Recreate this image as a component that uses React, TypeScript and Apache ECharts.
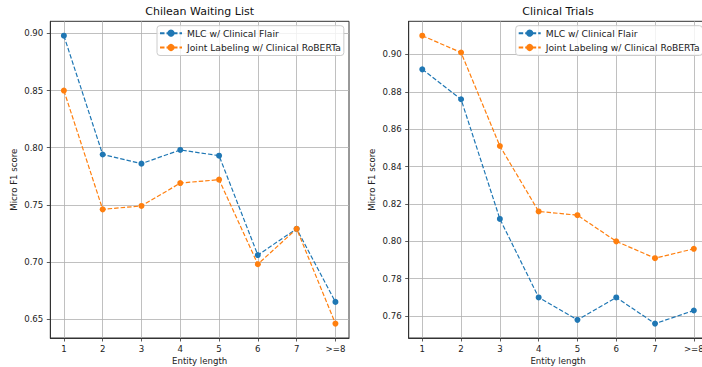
import React, { useEffect, useRef } from "react";
import * as echarts from "echarts";

const categories = ["1", "2", "3", "4", "5", "6", "7", ">=8"];
const seriesNames = ["MLC w/ Clinical Flair", "Joint Labeling w/ Clinical RoBERTa"];
const cwlMlc = [0.898, 0.794, 0.786, 0.798, 0.793, 0.706, 0.729, 0.665];
const cwlJoint = [0.85, 0.746, 0.749, 0.769, 0.772, 0.698, 0.729, 0.646];
const ctMlc = [0.892, 0.876, 0.812, 0.77, 0.758, 0.77, 0.756, 0.763];
const ctJoint = [0.91, 0.901, 0.851, 0.816, 0.814, 0.8, 0.791, 0.796];
const cwlTicks = [0.65, 0.7, 0.75, 0.8, 0.85, 0.9];
const ctTicks = [0.76, 0.78, 0.8, 0.82, 0.84, 0.86, 0.88, 0.9];
const titles = ["Chilean Waiting List", "Clinical Trials"];
const xName = "Entity length";
const yName = "Micro F1 score";

const FONT = "DejaVu Sans";
const colors = ["#1f77b4", "#ff7f0e"];
const TXT = "#222";

function range(arrs: number[][]) {
  const all = arrs.flat();
  const lo = Math.min(...all);
  const hi = Math.max(...all);
  const m = (hi - lo) * 0.05;
  return [lo - m, hi + m];
}

export default function App() {
  const ref = useRef<HTMLDivElement>(null);
  useEffect(() => {
    if (!ref.current) return;
    const chart = echarts.init(ref.current, null, { renderer: "svg" });
    const grids = [
      { left: 50.3, top: 21.3, width: 298.7, height: 316.7 },
      { left: 408.7, top: 21.3, width: 298.7, height: 316.7 },
    ];
    const yTicks = [cwlTicks, ctTicks];
    const yRanges = [range([cwlMlc, cwlJoint]), range([ctMlc, ctJoint])];
    const data = [
      [cwlMlc, cwlJoint],
      [ctMlc, ctJoint],
    ];
    const xIdx = categories.map((_, i) => i);

    const option: any = {
      animation: false,
      backgroundColor: "#fff",
      grid: grids.map((g) => ({
        ...g,
        show: true,
        borderColor: "#333",
        borderWidth: 1,
        backgroundColor: "transparent",
        containLabel: false,
        outerBoundsMode: "none",
      })),
      xAxis: grids.map((_, gi) => ({
        type: "value",
        gridIndex: gi,
        min: -0.35,
        max: 7.35,
        name: xName,
        nameLocation: "middle",
        nameGap: 18.5,
        nameMoveOverlap: false,
        nameTextStyle: { fontFamily: FONT, fontSize: 8.6, color: TXT },
        axisLine: { show: true, onZero: false, lineStyle: { color: "#333", width: 1 } },
        axisTick: {
          show: true,
          length: 3.5,
          customValues: xIdx,
          lineStyle: { color: "#333", width: 0.8 },
        },
        axisLabel: {
          customValues: xIdx,
          margin: 6.5,
          fontFamily: FONT,
          fontSize: 8.6,
          color: TXT,
          formatter: (v: number) => categories[Math.round(v)] ?? "",
        },
        splitLine: { show: true, lineStyle: { color: "#b0b0b0", width: 0.8 } },
      })),
      yAxis: grids.map((_, gi) => ({
        type: "value",
        gridIndex: gi,
        min: yRanges[gi][0],
        max: yRanges[gi][1],
        name: yName,
        nameLocation: "middle",
        nameGap: 32,
        nameMoveOverlap: false,
        nameTextStyle: { fontFamily: FONT, fontSize: 8.6, color: TXT },
        axisLine: { show: true, onZero: false, lineStyle: { color: "#333", width: 1 } },
        axisTick: {
          show: true,
          length: 3.5,
          customValues: yTicks[gi],
          lineStyle: { color: "#333", width: 0.8 },
        },
        axisLabel: {
          customValues: yTicks[gi],
          margin: 7,
          fontFamily: FONT,
          fontSize: 8.6,
          color: TXT,
          formatter: (v: number) => v.toFixed(2),
        },
        splitLine: { show: true, lineStyle: { color: "#b0b0b0", width: 0.8 } },
      })),
      legend: [157, 515.7].map((lx) => ({
        left: lx,
        top: 25.7,
        orient: "vertical",
        data: seriesNames,
        itemWidth: 22,
        itemHeight: 9,
        itemGap: 5.3,
        padding: [3, 3, 3.5, 2],
        backgroundColor: "rgba(255,255,255,0.8)",
        borderColor: "#cccccc",
        borderWidth: 1,
        borderRadius: 3,
        textStyle: { fontFamily: FONT, fontSize: 9.2, color: TXT, lineHeight: 9 },
      })),
      graphic: titles.map((t, gi) => ({
        type: "text",
        x: grids[gi].left + grids[gi].width / 2,
        y: 11.7,
        style: {
          text: t,
          fill: "#111",
          font: `11px "${FONT}"`,
          textAlign: "center",
          textVerticalAlign: "middle",
        },
      })),
      series: data.flatMap((pair, gi) =>
        pair.map((vals, si) => ({
          name: seriesNames[si],
          type: "line",
          xAxisIndex: gi,
          yAxisIndex: gi,
          data: vals.map((v, i) => [i, v]),
          symbol: "circle",
          symbolSize: 6,
          lineStyle: { color: colors[si], width: 1.2, type: [4.5, 2] },
          itemStyle: { color: colors[si] },
        }))
      ),
    };
    chart.setOption(option);
    return () => chart.dispose();
  }, []);
  return (
    <div
      ref={ref}
      style={{ position: "fixed", left: 0, top: 0, width: 702, height: 367 }}
    />
  );
}
